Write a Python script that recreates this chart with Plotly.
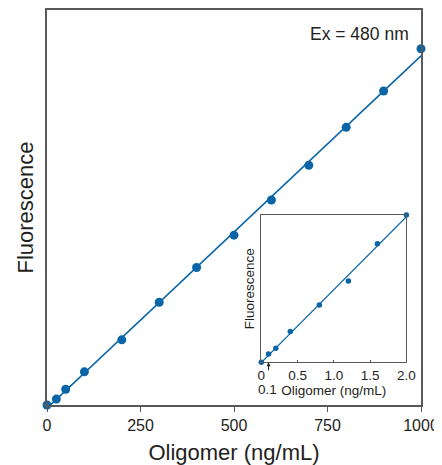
import numpy as np
import plotly.graph_objects as go

# Main data
main_x = [0, 25, 50, 100, 200, 300, 400, 500, 600, 700, 800, 900, 1000]
main_y = [0, 1.5, 4.0, 8.4, 16.5, 26.0, 34.8, 43.0, 51.9, 60.7, 70.3, 79.5, 90.2]
main_ticks = [0, 250, 500, 750, 1000]

# Inset data
inset_x = [0, 0.1, 0.2, 0.4, 0.8, 1.2, 1.6, 2.0]
inset_y = [0, 5.6, 9.5, 21.0, 38.9, 55.2, 80.5, 100]
inset_ticks = [0, 0.5, 1.0, 1.5, 2.0]
inset_ticktext = ["0", "0.5", "1.0", "1.5", "2.0"]
arrow_x = [0.1]

BLUE = "#0a65a7"
TXT = "#231f20"
AX = "#58595b"
FONT = "Liberation Sans"

# linear fits
m1, b1 = np.polyfit(main_x, main_y, 1)
fx1 = np.array([min(main_x), max(main_x)])
m2, b2 = np.polyfit(inset_x, inset_y, 1)
fx2 = np.array([min(inset_x), max(inset_x)])

fig = go.Figure()
fig.add_trace(go.Scatter(x=fx1, y=m1 * fx1 + b1, mode="lines",
                         line=dict(color=BLUE, width=1.6), xaxis="x", yaxis="y",
                         showlegend=False, hoverinfo="skip"))
fig.add_trace(go.Scatter(x=main_x, y=main_y, mode="markers",
                         marker=dict(color=BLUE, size=9), xaxis="x", yaxis="y",
                         cliponaxis=False, showlegend=False))
fig.add_trace(go.Scatter(x=fx2, y=m2 * fx2 + b2, mode="lines",
                         line=dict(color=BLUE, width=1.1), xaxis="x2", yaxis="y2",
                         showlegend=False, hoverinfo="skip"))
fig.add_trace(go.Scatter(x=inset_x, y=inset_y, mode="markers",
                         marker=dict(color=BLUE, size=5.5), xaxis="x2", yaxis="y2",
                         cliponaxis=False, showlegend=False))

# page body adds an 8px offset; figure sized to fill the rest of the window
fig.update_layout(
    width=434, height=457,
    margin=dict(l=39, r=20.5, t=2, b=60, autoexpand=False),
    paper_bgcolor="white", plot_bgcolor="white",
    font=dict(family=FONT, color=TXT),
    showlegend=False,
    xaxis=dict(domain=[0, 1], range=[0, 1000], tickvals=main_ticks, automargin=False,
               showline=True, linecolor=AX, linewidth=1.5, mirror=True,
               ticks="outside", ticklen=5, tickwidth=1.2, tickcolor=AX,
               showgrid=False, zeroline=False,
               tickfont=dict(size=16, color=TXT),
               title=dict(text="Oligomer (ng/mL)", font=dict(size=22, color=TXT), standoff=15)),
    yaxis=dict(domain=[0, 1], range=[0, 100], showticklabels=False, ticks="", automargin=False,
               showline=True, linecolor=AX, linewidth=1.5, mirror=True,
               showgrid=False, zeroline=False,
               title=dict(text="Fluorescence", font=dict(size=22, color=TXT), standoff=6)),
    xaxis2=dict(domain=[0.573, 0.961], anchor="y2", range=[0, 2], automargin=False,
                tickvals=inset_ticks, ticktext=inset_ticktext,
                showline=True, linecolor=AX, linewidth=1.2, mirror=True,
                ticks="inside", ticklen=2, tickcolor=AX,
                showgrid=False, zeroline=False,
                tickfont=dict(size=13.5, color=TXT),
                title=dict(text="Oligomer (ng/mL)", font=dict(size=13.5, color=TXT), standoff=1)),
    yaxis2=dict(domain=[0.108, 0.481], anchor="x2", range=[0, 100], automargin=False,
                showticklabels=False, ticks="",
                showline=True, linecolor=AX, linewidth=1.2, mirror=True,
                showgrid=False, zeroline=False,
                title=dict(text="Fluorescence", font=dict(size=13.5, color=TXT), standoff=2)),
)

fig.add_annotation(x=0.973, y=0.97, xref="paper", yref="paper", text="Ex = 480 nm",
                   showarrow=False, xanchor="right", yanchor="top",
                   font=dict(size=17.5, color=TXT, family=FONT))

# arrow marking 0.1 in inset
fig.add_annotation(x=arrow_x[0], y=0, xref="x2", yref="y2", text=" ",
                   showarrow=True, arrowhead=2, arrowsize=0.8, arrowwidth=1,
                   arrowcolor=TXT, ax=0, ay=10, font=dict(size=1))
fig.add_annotation(x=arrow_x[0], y=0, xref="x2", yref="y2", text="0.1",
                   showarrow=False, yshift=-27, xshift=-1,
                   font=dict(size=13.5, color=TXT, family=FONT))

fig.write_html("out.html")
